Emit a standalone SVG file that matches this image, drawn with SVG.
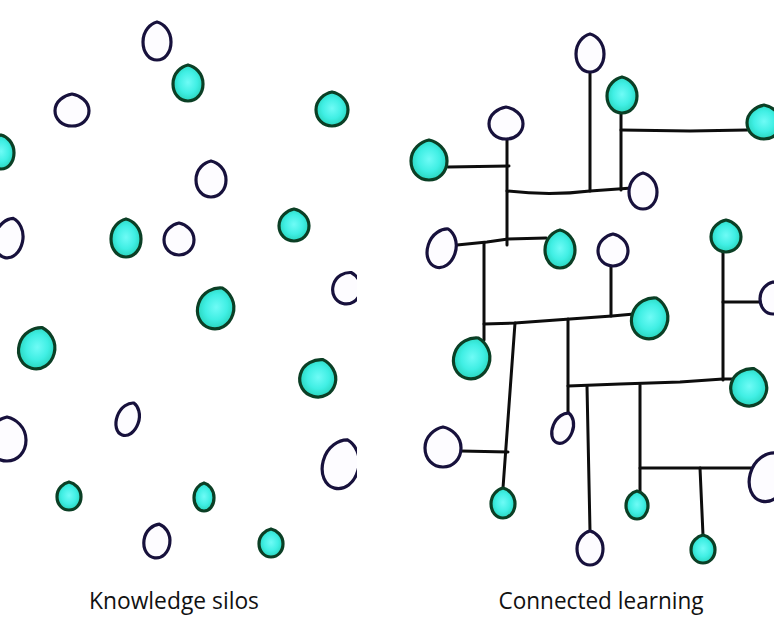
<svg xmlns="http://www.w3.org/2000/svg" xmlns:xlink="http://www.w3.org/1999/xlink" width="774" height="620" viewBox="0 0 774 620">
<style>
.t{fill:url(#tg);stroke:#0b3f25;stroke-width:3.2}
.w{fill:#fdfcff;stroke:#17113c;stroke-width:3.2}
.c path{fill:none;stroke:#0d0d0d;stroke-width:3;stroke-linecap:round;stroke-linejoin:round}
.lbl{font-family:"Open Sans","Liberation Sans",sans-serif;font-size:24px;fill:#111;text-anchor:middle}
</style>
<defs>
<radialGradient id="tg" cx="0.5" cy="0.48" r="0.55">
<stop offset="0" stop-color="#6ffbf6"/>
<stop offset="0.55" stop-color="#40efe4"/>
<stop offset="1" stop-color="#26d2b8"/>
</radialGradient>
<path id="drop" vector-effect="non-scaling-stroke" d="M0,-1 C0.45,-0.92 1,-0.55 1,0.05 C1,0.6 0.56,1 0,1 C-0.56,1 -1,0.6 -1,0.05 C-1,-0.55 -0.45,-0.92 0,-1Z"/>
<clipPath id="leftclip"><rect x="0" y="0" width="357" height="620"/></clipPath>
</defs>
<rect width="774" height="620" fill="#ffffff"/>

<g id="silos" clip-path="url(#leftclip)">
<g id="l1"><use href="#drop" class="w" transform="translate(157,41) scale(14,19)"/></g>
<g id="l2"><use href="#drop" class="t" transform="translate(188,83) scale(15,18)"/></g>
<g id="l3"><use href="#drop" class="w" transform="translate(72,110) scale(17,16)"/></g>
<g id="l4"><use href="#drop" class="t" transform="translate(332,109) scale(16,17)"/></g>
<g id="l5"><use href="#drop" class="t" transform="translate(1,152) scale(13,17)"/></g>
<g id="l6"><use href="#drop" class="w" transform="translate(211,179) scale(15,18)"/></g>
<g id="l7"><use href="#drop" class="w" transform="translate(9,238) rotate(12) scale(14,20)"/></g>
<g id="l8"><use href="#drop" class="t" transform="translate(126,238) scale(15,19)"/></g>
<g id="l9"><use href="#drop" class="w" transform="translate(179,239) scale(15,16)"/></g>
<g id="l10"><use href="#drop" class="t" transform="translate(294,225) scale(15,16)"/></g>
<g id="l11"><use href="#drop" class="w" transform="translate(347,288) rotate(15) scale(14,16)"/></g>
<g id="l12"><use href="#drop" class="t" transform="translate(216,308) rotate(18) scale(18,21)"/></g>
<g id="l13"><use href="#drop" class="t" transform="translate(37,348) rotate(15) scale(18,21)"/></g>
<g id="l14"><use href="#drop" class="t" transform="translate(318,378) rotate(15) scale(18,19)"/></g>
<g id="l15"><use href="#drop" class="w" transform="translate(128,419) rotate(20) scale(11,17)"/></g>
<g id="l16"><use href="#drop" class="w" transform="translate(7,439) scale(19,22)"/></g>
<g id="l17"><use href="#drop" class="w" transform="translate(341,464) rotate(15) scale(18,25)"/></g>
<g id="l18"><use href="#drop" class="t" transform="translate(69,496) scale(12,14)"/></g>
<g id="l19"><use href="#drop" class="t" transform="translate(204,497) scale(10,14)"/></g>
<g id="l20"><use href="#drop" class="w" transform="translate(157,541) rotate(8) scale(13,17)"/></g>
<g id="l21"><use href="#drop" class="t" transform="translate(271,543) scale(12,14)"/></g>
</g>

<g id="connectors" class="c">
<path d="M507,137 L507,245"/>
<path d="M448,167 L509,166"/>
<path d="M507,191 Q550,196 590,191 L632,188"/>
<path d="M590,72 L590,191"/>
<path d="M621,113 L621,190"/>
<path d="M621,130 L690,131 L747,130"/>
<path d="M457,245 L487,242 L508,239 L546,238"/>
<path d="M484,243 L484,340"/>
<path d="M484,324 L515,323 L570,319 L612,316 L634,314"/>
<path d="M611,265 L611,316"/>
<path d="M515,323 L503,488"/>
<path d="M461,451 L508,452"/>
<path d="M568,319 L568,413"/>
<path d="M568,386 L620,384 L680,382 L723,379 L733,379"/>
<path d="M723,252 L723,380"/>
<path d="M723,302 L760,302"/>
<path d="M587,386 L590,531"/>
<path d="M640,385 L640,491"/>
<path d="M640,468 L700,468 L752,468"/>
<path d="M700,468 L703,535"/>
</g>

<g id="connected">
<g id="r1"><use href="#drop" class="w" transform="translate(590,53) scale(14,19)"/></g>
<g id="r2"><use href="#drop" class="t" transform="translate(622,95) scale(15,18)"/></g>
<g id="r3"><use href="#drop" class="w" transform="translate(506,123) scale(17,16)"/></g>
<g id="r4"><use href="#drop" class="t" transform="translate(429,160) scale(18,20)"/></g>
<g id="r5"><use href="#drop" class="t" transform="translate(764,122) scale(17,17)"/></g>
<g id="r6"><use href="#drop" class="w" transform="translate(643,191) scale(14,18)"/></g>
<g id="r7"><use href="#drop" class="w" transform="translate(442,248) rotate(18) scale(14,20)"/></g>
<g id="r8"><use href="#drop" class="t" transform="translate(560,249) scale(15,19)"/></g>
<g id="r9"><use href="#drop" class="w" transform="translate(613,250) scale(15,16)"/></g>
<g id="r10"><use href="#drop" class="t" transform="translate(726,236) scale(15,16)"/></g>
<g id="r11"><use href="#drop" class="w" transform="translate(773,298) scale(13,16)"/></g>
<g id="r12"><use href="#drop" class="t" transform="translate(650,318) rotate(18) scale(18,21)"/></g>
<g id="r13"><use href="#drop" class="t" transform="translate(472,358) rotate(18) scale(18,21)"/></g>
<g id="r14"><use href="#drop" class="t" transform="translate(749,387) rotate(15) scale(18,19)"/></g>
<g id="r15"><use href="#drop" class="w" transform="translate(563,428) rotate(22) scale(10,16)"/></g>
<g id="r16"><use href="#drop" class="w" transform="translate(443,447) scale(18,20)"/></g>
<g id="r17"><use href="#drop" class="w" transform="translate(768,477) rotate(15) scale(18,25)"/></g>
<g id="r18"><use href="#drop" class="t" transform="translate(503,503) scale(12,15)"/></g>
<g id="r19"><use href="#drop" class="t" transform="translate(637,505) scale(11,14)"/></g>
<g id="r20"><use href="#drop" class="w" transform="translate(590,548) scale(13,17)"/></g>
<g id="r21"><use href="#drop" class="t" transform="translate(703,549) scale(12,14)"/></g>
</g>

<text class="lbl" x="174" y="609" textLength="170" lengthAdjust="spacingAndGlyphs">Knowledge silos</text>
<text class="lbl" x="601" y="609" textLength="205" lengthAdjust="spacingAndGlyphs">Connected learning</text>
</svg>
